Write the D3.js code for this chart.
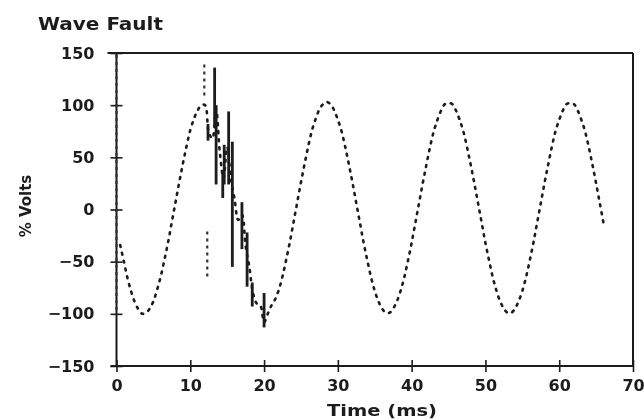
<!DOCTYPE html>
<html>
<head>
<meta charset="utf-8">
<script src="https://cdn.jsdelivr.net/npm/d3@7"></script>
<style>
  body { margin: 0; background: #fff; }
  svg { display: block; }
  text { font-family: "DejaVu Sans", sans-serif; font-weight: bold; fill: #1c1c1c; }
</style>
</head>
<body>
<div id="chart"></div>
<script>
// ticks
const xTicks = [0, 10, 20, 30, 40, 50, 60, 70];
const yTicks = [-150, -100, -50, 0, 50, 100, 150];
const yTickLabels = ["\u2212150", "\u2212100", "\u221250", "0", "50", "100", "150"];

// sampled trace (% volts), one sample every 0.5 ms from 0.5 ms
const sampleStart = 0.5;
const sampleStep = 0.5;
const traceVolts = [
  -34, -50, -66, -79, -89, -96, -100, -99, -95, -88, -77, -64, -48, -31, -12, 7, 26, 44, 61, 76, 87, 95, 100, 100,
  74, 68, 96, 55, 30, 60, 30, 10, -10, -5, -35, -55, -80, -90, -92, -108, -100, -92,
  -86, -77, -64, -48, -31, -12, 7, 26, 44, 61, 76, 87, 96, 101, 103,
  101, 95, 86, 75, 60, 43, 25, 6, -13, -32, -49, -65, -78, -88, -95, -99, -99, -95, -88, -78, -65, -49, -32, -13, 6, 25, 43, 60, 75, 86, 95, 101, 102,
  101, 95, 86, 75, 60, 43, 25, 6, -13, -32, -49, -65, -78, -88, -95, -99, -99, -95, -88, -78, -65, -49, -32, -13, 6, 25, 43, 60, 75, 86, 95, 101, 102,
  101, 95, 86, 75, 60, 43, 25, 6, -13
];

// fast swings during the fault (vertical bursts)
const burstTime = [12.4, 13.3, 13.5, 14.4, 14.6, 15.2, 15.7, 17.0, 17.7, 18.4, 20.0];
const burstLow  = [66, 80, 24, 11, 24, 24, -55, -38, -74, -93, -113];
const burstHigh = [82, 136, 100, 38, 62, 94, 65, 7, -22, -70, -80];

// faint stray samples
const strayTime = [0, 11.9, 12.3];
const strayLow  = [-100, 108, -67];
const strayHigh = [148, 139, -21];

const width = 644, height = 419;

const svg = d3.select("#chart").append("svg")
    .attr("width", width)
    .attr("height", height);

svg.append("defs").append("filter")
    .attr("id", "scan")
    .append("feGaussianBlur")
    .attr("stdDeviation", 0.5);

const g = svg.append("g").attr("filter", "url(#scan)");

const x = d3.scaleLinear().domain([0, 70]).range([116.5, 633]);
const y = d3.scaleLinear().domain([-150, 150]).range([366, 53]);

const ink = "#1c1c1c";

// frame
g.append("line").attr("x1", x(0) - 9).attr("x2", x(70)).attr("y1", y(150)).attr("y2", y(150))
    .attr("stroke", ink).attr("stroke-width", 2);
g.append("line").attr("x1", x(70)).attr("x2", x(70)).attr("y1", y(150)).attr("y2", y(-150))
    .attr("stroke", ink).attr("stroke-width", 2);
g.append("line").attr("x1", x(0) - 6).attr("x2", x(70)).attr("y1", y(-150)).attr("y2", y(-150))
    .attr("stroke", ink).attr("stroke-width", 2);
g.append("line").attr("x1", x(0)).attr("x2", x(0)).attr("y1", y(150)).attr("y2", y(-150))
    .attr("stroke", ink).attr("stroke-width", 2);

// x axis
const xAxis = g.append("g")
    .attr("transform", `translate(0,${y(-150)})`)
    .call(d3.axisBottom(x).tickValues(xTicks).tickSize(0).tickPadding(14));
xAxis.select(".domain").remove();
xAxis.selectAll(".tick line").attr("y1", -6).attr("y2", 6).attr("stroke", ink).attr("stroke-width", 1.6);
xAxis.selectAll(".tick text").style("font-size", "16px").attr("fill", ink);

// y axis
const yAxis = g.append("g")
    .attr("transform", `translate(${x(0)},0)`)
    .call(d3.axisLeft(y).tickValues(yTicks).tickSize(0).tickPadding(22)
        .tickFormat((d, i) => yTickLabels[i]));
yAxis.select(".domain").remove();
yAxis.selectAll(".tick line").attr("x1", -6).attr("x2", 6).attr("stroke", ink).attr("stroke-width", 1.6);
yAxis.selectAll(".tick text").style("font-size", "16px").attr("fill", ink);

// stray samples
g.selectAll(".stray")
    .data(strayTime)
    .enter()
    .append("line")
    .attr("class", "stray")
    .attr("x1", d => x(d)).attr("x2", d => x(d))
    .attr("y1", (d, i) => y(strayHigh[i]))
    .attr("y2", (d, i) => y(strayLow[i]))
    .attr("stroke", "#333")
    .attr("stroke-width", 2.2)
    .attr("stroke-dasharray", "3 4");

// main dotted trace
const points = traceVolts.map((v, i) => [sampleStart + i * sampleStep, v]);
const line = d3.line()
    .x(d => x(d[0]))
    .y(d => y(d[1]))
    .curve(d3.curveCatmullRom);

g.append("path")
    .datum(points)
    .attr("d", line)
    .attr("fill", "none")
    .attr("stroke", ink)
    .attr("stroke-width", 2.6)
    .attr("stroke-linecap", "round")
    .attr("stroke-dasharray", "2 6");

// fault bursts
g.selectAll(".burst")
    .data(burstTime)
    .enter()
    .append("line")
    .attr("class", "burst")
    .attr("x1", d => x(d)).attr("x2", d => x(d))
    .attr("y1", (d, i) => y(burstHigh[i]))
    .attr("y2", (d, i) => y(burstLow[i]))
    .attr("stroke", ink)
    .attr("stroke-width", 2.8);

// titles
g.append("text")
    .attr("x", 38).attr("y", 30)
    .attr("textLength", 125).attr("lengthAdjust", "spacingAndGlyphs")
    .style("font-size", "17px")
    .text("Wave Fault");

g.append("text")
    .attr("x", 327).attr("y", 416)
    .attr("textLength", 110).attr("lengthAdjust", "spacingAndGlyphs")
    .style("font-size", "15px")
    .text("Time (ms)");

g.append("text")
    .attr("transform", "translate(31,206) rotate(-90)")
    .attr("text-anchor", "middle")
    .style("font-size", "15px")
    .text("% Volts");
</script>
</body>
</html>
